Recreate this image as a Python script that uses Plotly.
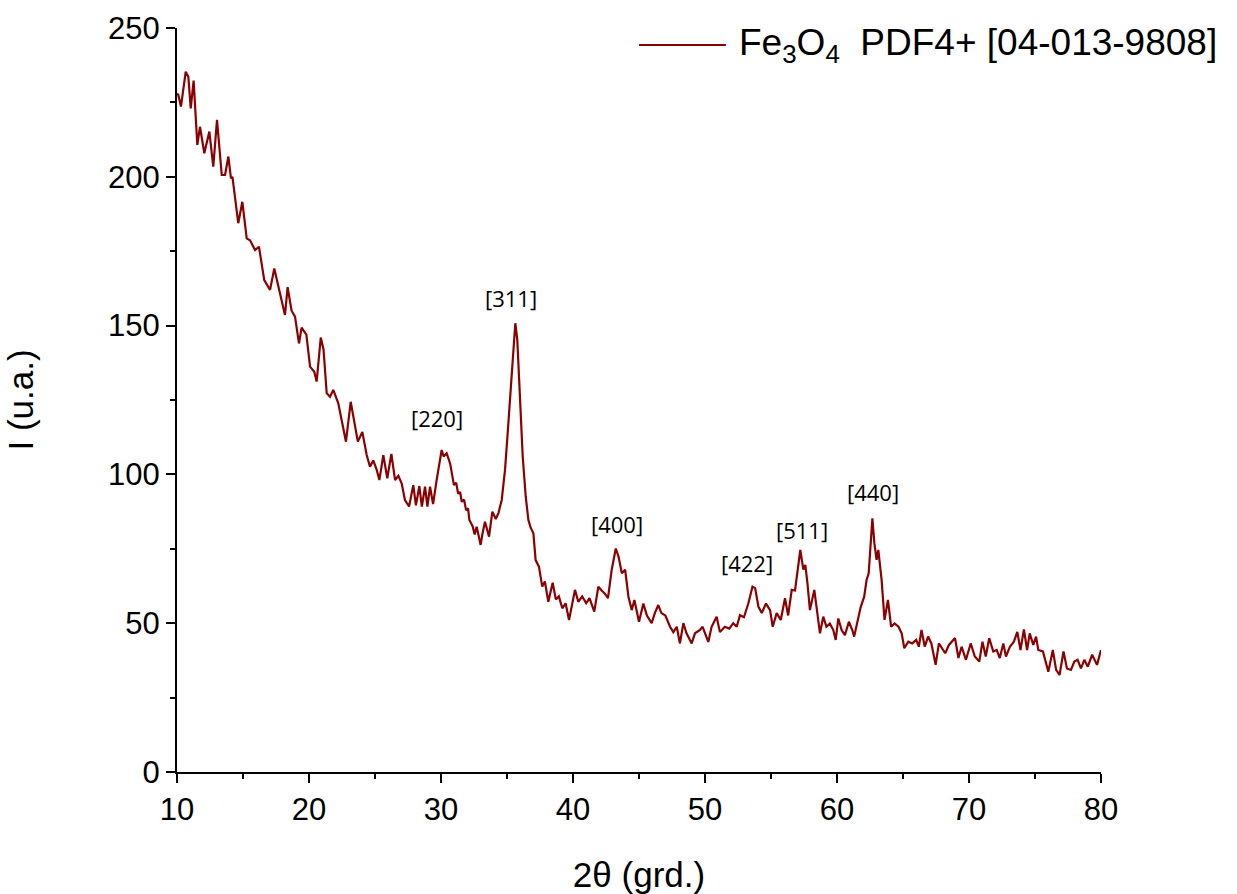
import plotly.graph_objects as go

two_theta = [
    10.0, 10.1, 10.3, 10.66, 10.86, 11.04, 11.26, 11.54, 11.74, 12.07, 12.45, 12.75, 13.03,
    13.39, 13.64, 13.89, 14.09, 14.2, 14.64, 14.95, 15.28, 15.53, 15.91, 16.21, 16.61,
    17.05, 17.37, 17.68, 17.8, 18.18, 18.38, 18.68, 18.94, 19.24, 19.44, 19.8, 20.08,
    20.4, 20.58, 20.89, 21.1, 21.34, 21.59, 21.84, 22.22, 22.8, 23.16, 23.48, 23.7,
    24.04, 24.37, 24.62, 24.87, 25.13, 25.33, 25.63, 25.93, 26.24, 26.52, 26.77, 27.02,
    27.27, 27.58, 27.9, 28.1, 28.36, 28.55, 28.79, 28.97, 29.17, 29.4, 29.67, 30.05,
    30.2, 30.43, 30.7, 30.85, 30.98, 31.15, 31.3, 31.45, 31.57, 31.75, 31.9, 32.05, 32.15,
    32.3, 32.4, 32.55, 32.7, 32.85, 33.0, 33.15, 33.33, 33.64,
    33.89, 34.15, 34.35, 34.6, 34.85, 35.05, 35.3, 35.51, 35.63, 35.78, 35.96, 36.19,
    36.42, 36.62, 36.8, 37.0, 37.17, 37.42, 37.67, 37.87, 38.13, 38.46, 38.7, 38.93,
    39.19, 39.44, 39.7, 39.9, 40.15, 40.4, 40.7, 41.0, 41.25, 41.61, 41.92, 42.17, 42.4,
    42.65, 42.93, 43.24, 43.45, 43.7, 43.95, 44.2, 44.45, 44.65, 45.0, 45.33, 45.6,
    45.96, 46.2, 46.46, 46.7, 47.0, 47.35, 47.6, 47.86, 48.1, 48.36, 48.6, 48.99, 49.24,
    49.62, 49.82, 50.25, 50.5, 50.88, 51.13, 51.5, 51.84, 52.14, 52.4, 52.65, 52.95,
    53.28, 53.6, 53.8, 54.05, 54.3, 54.62, 54.93, 55.13, 55.43, 55.74, 56.06, 56.3,
    56.57, 56.82, 57.0, 57.22, 57.45, 57.6, 57.76, 57.95, 58.28, 58.53, 58.71, 58.96,
    59.2, 59.46, 59.72, 59.9, 60.1, 60.35, 60.6, 60.9, 61.16, 61.3, 61.56, 61.8, 62.06,
    62.24, 62.4, 62.68, 62.83, 63.0, 63.13, 63.38, 63.6, 63.86, 64.1, 64.36, 64.66,
    64.9, 65.1, 65.4, 65.7, 66.0, 66.2, 66.4, 66.65, 66.9, 67.15, 67.47, 67.72, 67.97,
    68.2, 68.48, 68.94, 69.2, 69.44, 69.77, 70.13, 70.44, 70.78, 71.02, 71.27, 71.53,
    71.84, 72.1, 72.33, 72.6, 72.8, 73.1, 73.4, 73.66, 73.9, 74.16, 74.4, 74.6, 74.87,
    75.08, 75.25, 75.6, 75.77, 76.01, 76.35, 76.6, 76.86, 77.16, 77.42, 77.72, 77.98,
    78.23, 78.48, 78.74, 79.0, 79.33, 79.7, 80.0,
]
intensity = [
    228, 227.5, 223.6, 235.3, 233.6, 223, 232.3, 210.7, 216.8, 207.9, 215.2, 203.4, 219.1,
    200.6, 200.6, 206.8, 199.5, 200, 184.4, 191.6, 179.3, 178.7, 175.4, 176.5, 165.3,
    162, 169.2, 163, 161, 153.6, 162.9, 155, 153, 144, 149.3, 147, 136.2,
    134.5, 131.2, 146, 142, 127.3, 126.1, 128.4, 123.9, 111, 124.4, 117.2, 111,
    114.3, 106.5, 102.6, 104.7, 101.5, 98.1, 106.5, 98.7, 106.9, 98.1, 99.5, 97,
    91.4, 89.2, 96.4, 89.6, 96.1, 89.2, 95.9, 89.2, 95.9, 90, 98.1, 108.2,
    106, 107.1, 103.5, 99.5, 96.4, 97.2, 93.5, 94.1, 90.8, 91.5, 88, 88.6, 84.7,
    83.4, 82.5, 79.8, 82.4, 79.5, 76.3, 80.2, 84.1, 79.1,
    87.5, 85, 87, 91.4, 101.5, 113.8, 130.6, 146.3, 150.8, 145.2, 126.1, 106,
    92.5, 84.7, 82, 80.2, 71.2, 69, 62.3, 64, 57.2, 63.6, 58, 59,
    55, 56.7, 51.1, 56.2, 61.2, 57.2, 59, 56.7, 58.4, 53.9, 62.3, 61, 60,
    58.4, 67.9, 75.1, 72.4, 66.8, 68, 58.9, 54.4, 57.8, 50.5, 56.6, 52.6,
    50, 53.4, 56.1, 53.4, 52.6, 48.8, 47, 48.8, 43.2, 50, 46.6, 43.2, 46.6,
    47.7, 48.8, 43.7, 48.8, 52.2, 47, 48.8, 48.2, 50, 48.8, 52.7, 52,
    56.6, 62.3, 61.8, 55.5, 53.4, 56.6, 54.4, 48.8, 53.4, 51.1, 58.4, 52.6,
    61.2, 61, 68, 74.6, 68, 69.6, 63.5, 54.4, 61.2, 53.3, 46.6, 52.2,
    48.8, 49.9, 47.7, 44.4, 51.6, 47.7, 46, 50.5, 47.7, 45.5, 51.1, 55.5, 58.9,
    64.5, 66.8, 85.2, 76.9, 71.3, 74.6, 64.5, 51.1, 57.8, 48.8, 49.9, 48.8,
    46.6, 41.6, 43.8, 43.2, 44.4, 42.1, 47.7, 42.1, 45.5, 43.2, 36, 43.2, 41.6,
    39.9, 42.7, 45, 38.3, 42.1, 37.7, 43.2, 38.8, 37.1, 43.8, 38.8, 45,
    40.5, 41, 38.3, 43.2, 38.8, 42.1, 43.8, 47.1, 41, 47.9, 41, 46.6, 42.7,
    45.5, 41, 40.5, 37.7, 33.7, 41, 34.3, 32.6, 40.5, 34.8, 34.3, 37.1,
    37.7, 34.8, 37.7, 35.4, 39.4, 36, 41,
]

# Miller index labels and their anchor positions (data units)
peak_labels = ["[220]", "[311]", "[400]", "[422]", "[511]", "[440]"]
peak_x = [29.7, 35.3, 43.33, 53.2, 57.35, 62.7]
peak_y = [119, 159.3, 83.3, 70.2, 81.3, 94]

x_ticks = [10, 20, 30, 40, 50, 60, 70, 80]
y_ticks = [0, 50, 100, 150, 200, 250]

series_name = "Fe<sub>3</sub>O<sub>4</sub>\u00a0\u00a0PDF4+ [04-013-9808]"
line_color = "#8B0000"
font_main = "Liberation Sans, Arial, sans-serif"

fig = go.Figure()
fig.add_trace(go.Scatter(
    x=two_theta, y=intensity, mode="lines", name=series_name,
    line=dict(color=line_color, width=2.2), showlegend=False,
))

for lab, px, py in zip(peak_labels, peak_x, peak_y):
    fig.add_annotation(x=px, y=py, text=lab, showarrow=False,
                       xanchor="center", yanchor="middle",
                       font=dict(family="Open Sans, sans-serif", size=22, color="black"))

# legend drawn as line sample + text
fig.add_shape(type="line", xref="paper", yref="paper",
              x0=0.5, x1=0.594, y0=0.977, y1=0.977,
              line=dict(color=line_color, width=2))
fig.add_annotation(xref="paper", yref="paper", x=0.606, y=0.977,
                   text=series_name, showarrow=False,
                   xanchor="left", yanchor="middle",
                   font=dict(family=font_main, size=37, color="black"))

axis_common = dict(
    showline=True, linecolor="black", linewidth=2,
    ticks="outside", ticklen=9, tickwidth=2, tickcolor="black",
    showgrid=False, zeroline=False, mirror=False,
    tickfont=dict(family=font_main, size=31, color="black"),
)

fig.update_xaxes(
    range=[10, 80], tickvals=x_ticks,
    minor=dict(dtick=5, tick0=10, ticks="outside", ticklen=5, tickwidth=2, tickcolor="black"),
    title=dict(text="2θ (grd.)", font=dict(family=font_main, size=35, color="black"), standoff=38),
    **axis_common,
)
fig.update_yaxes(
    range=[0, 250], tickvals=y_ticks,
    minor=dict(dtick=25, tick0=0, ticks="outside", ticklen=5, tickwidth=2, tickcolor="black"),
    title=dict(text="I (u.a.)", font=dict(family=font_main, size=35, color="black"), standoff=64),
    **axis_common,
)

fig.update_layout(
    width=1237, height=894,
    margin=dict(l=177, r=136, t=28, b=122, autoexpand=False),
    plot_bgcolor="white", paper_bgcolor="white",
    showlegend=False,
)

fig.write_html("out.html")
